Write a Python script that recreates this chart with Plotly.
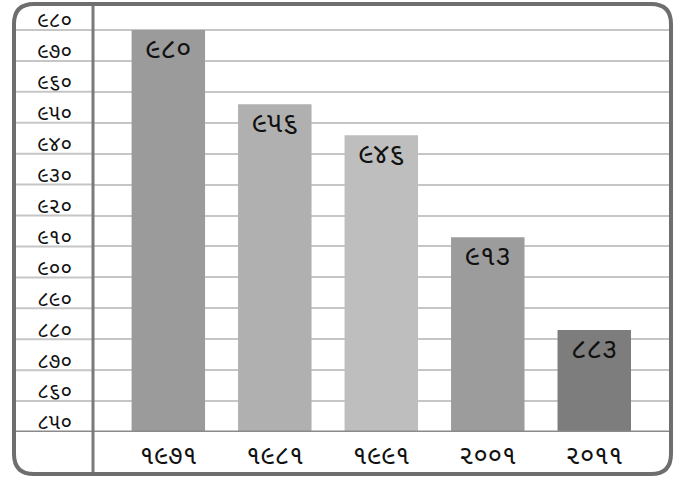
import plotly.graph_objects as go

years = ["૧૯૭૧", "૧૯૮૧", "૧૯૯૧", "૨૦૦૧", "૨૦૧૧"]
values = [980, 956, 946, 913, 883]
value_labels = ["૯૮૦", "૯૫૬", "૯૪૬", "૯૧૩", "૮૮૩"]
bar_colors = ["#9b9b9b", "#b0b0b0", "#bebebe", "#9c9c9c", "#7d7d7d"]
y_ticks = list(range(850, 990, 10))
digits = "૦૧૨૩૪૫૬૭૮૯"
y_ticktext = ["".join(digits[int(c)] for c in str(v)) for v in y_ticks]

W, H = 690, 480
L, R, T, B = 94, 18, 4, 48
pw, ph = W - L - R, H - T - B

def px(x):
    return (x - L) / pw

def py(y):
    return (H - B - y) / ph

fig = go.Figure()
fig.add_trace(go.Bar(
    x=list(range(len(years))), y=values,
    marker=dict(color=bar_colors, line=dict(width=0)),
    width=0.69,
    text=value_labels, textposition="inside", insidetextanchor="end",
    textangle=0, constraintext="none",
    textfont=dict(size=28, color="#111111"),
    hoverinfo="skip",
))

shapes = []
# gridlines in label column
for v in y_ticks[1:]:
    shapes.append(dict(type="line", xref="paper", yref="y", x0=px(14), x1=0, y0=v, y1=v,
                       line=dict(color="#c6c6c6", width=2), layer="below"))
# bottom thick axis line
shapes.append(dict(type="line", xref="paper", yref="y", x0=px(14), x1=px(671), y0=850, y1=850,
                   line=dict(color="#8a8a8a", width=3)))
# vertical separator
shapes.append(dict(type="line", xref="paper", yref="paper", x0=px(93), x1=px(93), y0=py(4), y1=py(475),
                   line=dict(color="#7a7a7a", width=3)))
# rounded frame
x0, x1, y0, y1, r = 14, 671, 4, 474, 20
path = (f"M {px(x0+r)},{py(y0)} L {px(x1-r)},{py(y0)} "
        f"Q {px(x1)},{py(y0)} {px(x1)},{py(y0+r)} L {px(x1)},{py(y1-r)} "
        f"Q {px(x1)},{py(y1)} {px(x1-r)},{py(y1)} L {px(x0+r)},{py(y1)} "
        f"Q {px(x0)},{py(y1)} {px(x0)},{py(y1-r)} L {px(x0)},{py(y0+r)} "
        f"Q {px(x0)},{py(y0)} {px(x0+r)},{py(y0)} Z")
shapes.append(dict(type="path", xref="paper", yref="paper", path=path,
                   line=dict(color="#6e6e6e", width=4)))

fig.update_layout(
    width=W, height=H,
    margin=dict(l=L, r=R, t=T, b=B, pad=0),
    paper_bgcolor="white", plot_bgcolor="white",
    showlegend=False,
    bargap=0.31,
    font=dict(family="Noto Sans Gujarati, Noto Sans, sans-serif", color="#111111"),
    xaxis=dict(
        range=[-0.698, 4.73], tickmode="array", tickvals=list(range(len(years))),
        ticktext=years, showgrid=False, zeroline=False, showline=False, ticks="",
        tickfont=dict(size=26, color="#111111"), ticklabelstandoff=5,
        fixedrange=True,
    ),
    yaxis=dict(
        range=[850, 850 + (428 / 402) * 130], tickmode="array", tickvals=y_ticks,
        ticktext=y_ticktext, showgrid=True, gridcolor="#c6c6c6", gridwidth=2,
        zeroline=False, showline=False, ticks="",
        tickfont=dict(size=21, color="#111111"), ticklabelstandoff=21,
        ticklabelshift=-10, fixedrange=True,
    ),
    shapes=shapes,
)

fig.write_html("out.html")
